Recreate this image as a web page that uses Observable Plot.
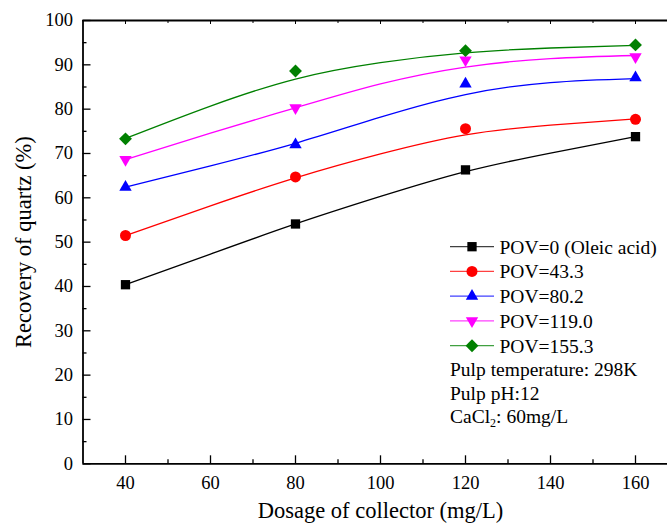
<!DOCTYPE html>
<html>
<head>
<meta charset="utf-8">
<script src="https://cdn.jsdelivr.net/npm/d3@7"></script>
<script src="https://cdn.jsdelivr.net/npm/@observablehq/plot@0.6"></script>
<style>
  html, body { margin: 0; padding: 0; background: #fff; }
  #chart svg { display: block; overflow: hidden; }
</style>
</head>
<body>
<div id="chart"></div>
<script>
// ---------------- data ----------------
const dosage = [40, 80, 120, 160];               // mg/L
const seriesNames = ["POV=0 (Oleic acid)", "POV=43.3", "POV=80.2", "POV=119.0", "POV=155.3"];
const recPOV0   = [40.4, 54.1, 66.3, 73.8];
const recPOV43  = [51.5, 64.7, 75.6, 77.7];
const recPOV80  = [62.4, 72.0, 85.7, 87.1];
const recPOV119 = [68.6, 80.3, 91.1, 91.8];
const recPOV155 = [73.3, 88.6, 93.2, 94.5];

// fitted curves
const fitDosage  = [40, 60, 80, 100, 120, 140, 160];
const fitPOV0    = [40.4, 47.3, 54.1, 60.3, 65.9, 70.1, 73.8];
const fitPOV43   = [51.5, 58.2, 64.5, 69.9, 74.2, 76.4, 77.8];
const fitPOV80   = [62.4, 67.2, 72.3, 78.2, 83.3, 86.0, 86.9];
const fitPOV119  = [68.6, 74.6, 80.3, 85.7, 89.5, 91.4, 92.1];
const fitPOV155  = [73.4, 80.7, 86.8, 90.5, 92.7, 93.8, 94.4];

const colors    = ["#000000", "#ff0000", "#0000ff", "#ff00ff", "#008000"];
const symbols   = ["square", "circle", "triangle", "triangle", "diamond2"];
const rotations = [0, 0, 0, 180, 0];
const radii     = [5.25, 5.5, 4.6, 4.6, 5.8];

const yTicks = [0, 10, 20, 30, 40, 50, 60, 70, 80, 90, 100];
const yMinor = [5, 15, 25, 35, 45, 55, 65, 75, 85, 95];
const xTicks = [40, 60, 80, 100, 120, 140, 160];
const xMinor = [50, 70, 90, 110, 130, 150];

const xTitle = "Dosage of collector (mg/L)";
const yTitle = "Recovery of quartz (%)";
const notes = [
  [{t: "Pulp temperature: 298K"}],
  [{t: "Pulp pH:12"}],
  [{t: "CaCl"}, {t: "2", sub: true}, {t: ": 60mg/L"}]
];

// ---------------- build tables ----------------
const pointSeries = [recPOV0, recPOV43, recPOV80, recPOV119, recPOV155];
const fitSeries = [fitPOV0, fitPOV43, fitPOV80, fitPOV119, fitPOV155];
const points = [];
pointSeries.forEach((vals, i) => vals.forEach((v, j) => points.push({s: i, x: dosage[j], y: v})));
const fits = [];
fitSeries.forEach((vals, i) => vals.forEach((v, j) => fits.push({s: i, x: fitDosage[j], y: v})));

// ---------------- layout ----------------
const W = 667, H = 530;
const mL = 82.5, mR = -10.5, mT = 20, mB = 66.7;
const frameW = W - mL - mR, frameH = H - mT - mB;
const font = "'Liberation Serif', 'Times New Roman', Times, serif";

const marks = [];
// frame lines
marks.push(Plot.ruleY([0, 100], {y: d => d, stroke: "#000", strokeWidth: 1.8}));
marks.push(Plot.ruleX([30], {x: d => d, stroke: "#000", strokeWidth: 1.8}));
// inward ticks
marks.push(Plot.tickY(yTicks, {y: d => d, insetRight: frameW - 8, stroke: "#000", strokeWidth: 1.3}));
marks.push(Plot.tickY(yMinor, {y: d => d, insetRight: frameW - 4, stroke: "#000", strokeWidth: 1.3}));
marks.push(Plot.tickX(xTicks, {x: d => d, insetTop: frameH - 8, stroke: "#000", strokeWidth: 1.3}));
marks.push(Plot.tickX(xMinor, {x: d => d, insetTop: frameH - 4, stroke: "#000", strokeWidth: 1.3}));
marks.push(Plot.tickX(xTicks, {x: d => d, insetBottom: frameH - 4, stroke: "#000", strokeWidth: 1}));
marks.push(Plot.tickX(xMinor, {x: d => d, insetBottom: frameH - 3, stroke: "#000", strokeWidth: 1}));
// axis labels
marks.push(Plot.axisY({ticks: yTicks, tickSize: 0, tickPadding: 10, fontSize: 18.5, tickFormat: d => String(d), label: null}));
marks.push(Plot.axisX({ticks: xTicks, tickSize: 0, tickPadding: 12.5, fontSize: 18.5, tickFormat: d => String(d), label: null}));
marks.push(Plot.text([xTitle], {text: d => d, frameAnchor: "bottom", textAnchor: "middle", dy: 54.5, fontSize: 22.5}));
marks.push(Plot.text([yTitle], {text: d => d, frameAnchor: "left", textAnchor: "middle", rotate: -90, dx: -59.5, fontSize: 22.5}));
// curves and points
for (let i = 0; i < 5; i++) {
  marks.push(Plot.line(fits.filter(d => d.s === i), {x: "x", y: "y", curve: "natural", stroke: colors[i], strokeWidth: 1.3}));
}
for (let i = 0; i < 5; i++) {
  marks.push(Plot.dot(points.filter(d => d.s === i), {x: "x", y: "y", symbol: symbols[i], rotate: rotations[i], r: radii[i], fill: colors[i], stroke: "none"}));
}

const chart = Plot.plot({
  width: W, height: H,
  marginLeft: mL, marginRight: mR, marginTop: mT, marginBottom: mB,
  x: {domain: [30, 170]},
  y: {domain: [0, 100]},
  style: {fontFamily: font, fontSize: "18.5px", color: "#000", background: "#fff"},
  marks
});

// ---------------- legend + notes (inside the frame) ----------------
const svg = d3.select(chart);
const g = svg.append("g").attr("font-family", font).attr("fill", "#000").attr("text-anchor", "start");
const rowY0 = 246.7, rowStep = 24.75;
const lx0 = 450, lx1 = 494, mx = 472, tx = 499.5;
const symMap = {square: d3.symbolSquare, circle: d3.symbolCircle, triangle: d3.symbolTriangle, diamond2: d3.symbolDiamond2};
seriesNames.forEach((name, i) => {
  const y = rowY0 + i * rowStep;
  g.append("line").attr("x1", lx0).attr("x2", lx1).attr("y1", y).attr("y2", y)
    .attr("stroke", colors[i]).attr("stroke-width", 1.3).attr("stroke-opacity", 0.75);
  g.append("path")
    .attr("d", d3.symbol(symMap[symbols[i]], Math.PI * radii[i] * radii[i])())
    .attr("transform", `translate(${mx},${y}) rotate(${rotations[i]})`)
    .attr("fill", colors[i]);
  g.append("text").attr("x", tx).attr("y", y).attr("dy", "0.35em")
    .attr("text-anchor", "start")
    .attr("font-size", 19.5).text(name);
});
const noteY0 = 376, noteStep = 23.6;
notes.forEach((parts, i) => {
  const t = g.append("text").attr("x", 450).attr("y", noteY0 + i * noteStep)
    .attr("text-anchor", "start").attr("font-size", 19.5);
  parts.forEach(p => {
    if (p.sub) {
      t.append("tspan").attr("font-size", 12).attr("dy", 4).text(p.t);
    } else {
      const ts = t.append("tspan").text(p.t);
      if (parts.length > 1 && p !== parts[0]) ts.attr("dy", -4);
    }
  });
});

document.getElementById("chart").appendChild(chart);
</script>
</body>
</html>
